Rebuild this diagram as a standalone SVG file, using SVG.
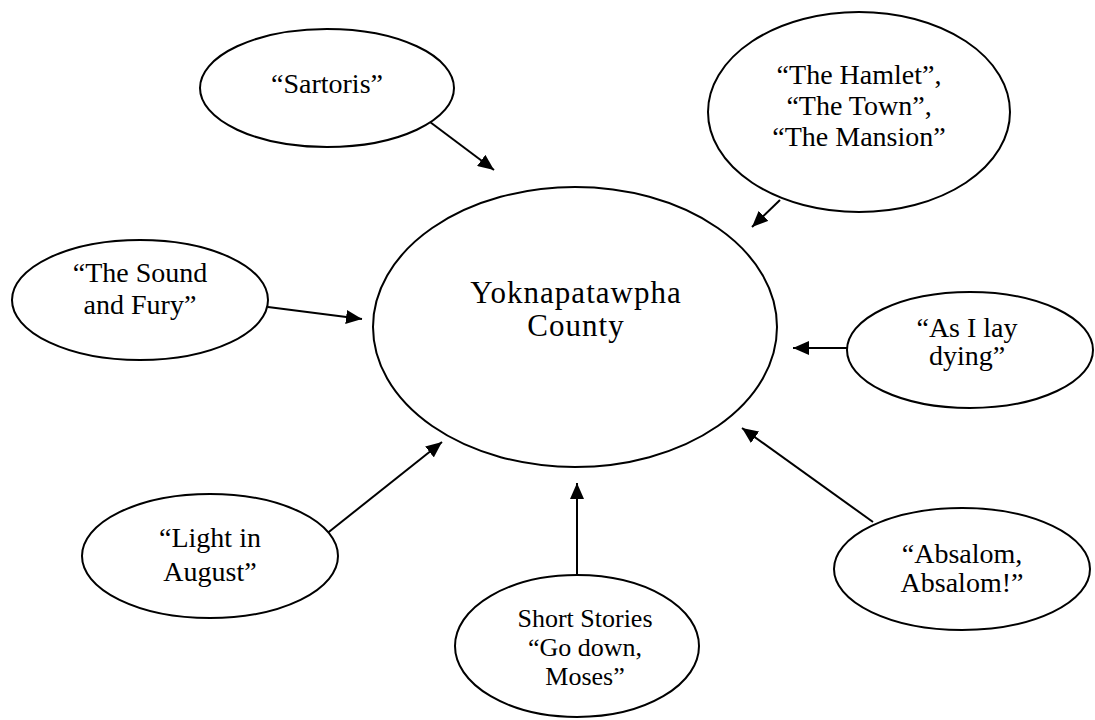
<svg xmlns="http://www.w3.org/2000/svg" width="1095" height="720" viewBox="0 0 1095 720">
<style>
.n{fill:#fff;stroke:#000;stroke-width:2}
.t{font-family:"Liberation Serif","Times New Roman",serif;font-size:28px;fill:#000;text-anchor:middle}
.c{stroke:#000;stroke-width:2;fill:none;marker-end:url(#ah)}
</style>
<defs>
<marker id="ah" markerUnits="userSpaceOnUse" markerWidth="18" markerHeight="14" refX="16" refY="7" orient="auto">
<path d="M0,0 L16,7 L0,14 Z" fill="#000"/>
</marker>
</defs>
<rect width="1095" height="720" fill="#fff"/>
<g id="connectors">
<line class="c" x1="430" y1="122" x2="494" y2="170"/>
<line class="c" x1="780" y1="200" x2="752" y2="227"/>
<line class="c" x1="268" y1="307" x2="362" y2="319"/>
<line class="c" x1="847" y1="348" x2="793" y2="348"/>
<line class="c" x1="325" y1="535" x2="442" y2="442"/>
<line class="c" x1="577" y1="575" x2="577" y2="483"/>
<line class="c" x1="873" y1="522" x2="742" y2="428"/>
</g>
<g id="center">
<ellipse class="n" cx="575" cy="327" rx="202" ry="140"/>
<text class="t" style="font-size:31px;letter-spacing:1px" x="576" y="303">Yoknapatawpha</text>
<text class="t" style="font-size:31px;letter-spacing:1px" x="576" y="336">County</text>
</g>
<g id="sartoris">
<ellipse class="n" cx="327" cy="88" rx="127" ry="59"/>
<text class="t" x="327" y="93">“Sartoris”</text>
</g>
<g id="hamlet">
<ellipse class="n" cx="859" cy="112" rx="151" ry="100"/>
<text class="t" x="859" y="84">“The Hamlet”,</text>
<text class="t" x="859" y="115">“The Town”,</text>
<text class="t" x="859" y="146">“The Mansion”</text>
</g>
<g id="sound">
<ellipse class="n" cx="140" cy="300" rx="128" ry="60"/>
<text class="t" x="140" y="282">“The Sound</text>
<text class="t" x="140" y="314">and Fury”</text>
</g>
<g id="aslay">
<ellipse class="n" cx="970" cy="350" rx="123" ry="58"/>
<text class="t" x="967" y="337">“As I lay</text>
<text class="t" x="967" y="365">dying”</text>
</g>
<g id="light">
<ellipse class="n" cx="210" cy="556" rx="128" ry="62"/>
<text class="t" x="210" y="547">“Light in</text>
<text class="t" x="210" y="581">August”</text>
</g>
<g id="short">
<ellipse class="n" cx="577" cy="646" rx="122" ry="71"/>
<text class="t" style="font-size:26px" x="585" y="627">Short Stories</text>
<text class="t" style="font-size:26px" x="585" y="656">“Go down,</text>
<text class="t" style="font-size:26px" x="585" y="685">Moses”</text>
</g>
<g id="absalom">
<ellipse class="n" cx="962" cy="569" rx="128" ry="61"/>
<text class="t" x="962" y="563">“Absalom,</text>
<text class="t" x="962" y="592">Absalom!”</text>
</g>
</svg>
